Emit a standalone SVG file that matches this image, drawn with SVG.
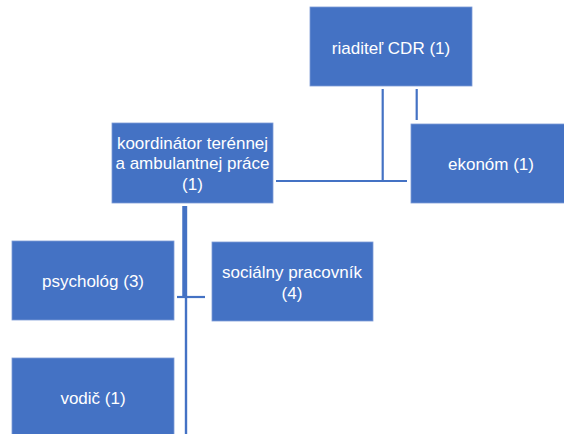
<svg xmlns="http://www.w3.org/2000/svg" width="564" height="434" viewBox="0 0 564 434">
<style>
.box{fill:#4472C4;stroke:#7d9bd6;stroke-width:0.8}
.t{fill:#ffffff;font-family:"Liberation Sans",Arial,sans-serif;font-size:17px;text-anchor:middle}
.c{stroke:#4472C4;fill:none}
</style>
<rect width="564" height="434" fill="#ffffff"/>
<g id="connectors">
<line class="c" x1="382.7" y1="89" x2="382.7" y2="182" stroke-width="2.2"/>
<line class="c" x1="276" y1="181" x2="407" y2="181" stroke-width="2.2"/>
<line class="c" x1="416.7" y1="89" x2="416.7" y2="120" stroke-width="2.2"/>
<line class="c" x1="184.5" y1="206" x2="184.5" y2="298" stroke-width="4.5"/>
<line class="c" x1="186" y1="206" x2="186" y2="434" stroke-width="2.4"/>
<line class="c" x1="177" y1="297" x2="205" y2="297" stroke-width="2.2"/>
</g>
<g id="riaditel">
<rect class="box" x="310" y="7" width="162" height="79"/>
<text class="t" x="391" y="54">riaditeľ CDR (1)</text>
</g>
<g id="ekonom">
<rect class="box" x="411" y="124" width="160" height="79"/>
<text class="t" x="491" y="170">ekonóm (1)</text>
</g>
<g id="koordinator">
<rect class="box" x="112" y="123" width="161" height="80"/>
<text class="t" x="192.5" y="149">koordinátor terénnej</text>
<text class="t" x="192.5" y="169">a ambulantnej práce</text>
<text class="t" x="192.5" y="190">(1)</text>
</g>
<g id="psycholog">
<rect class="box" x="12" y="241" width="162" height="79"/>
<text class="t" x="93" y="287">psychológ (3)</text>
</g>
<g id="socialny">
<rect class="box" x="212" y="242" width="161" height="79"/>
<text class="t" x="292" y="278">sociálny pracovník</text>
<text class="t" x="292" y="299">(4)</text>
</g>
<g id="vodic">
<rect class="box" x="12" y="358" width="162" height="90"/>
<text class="t" x="93" y="404">vodič (1)</text>
</g>
</svg>
